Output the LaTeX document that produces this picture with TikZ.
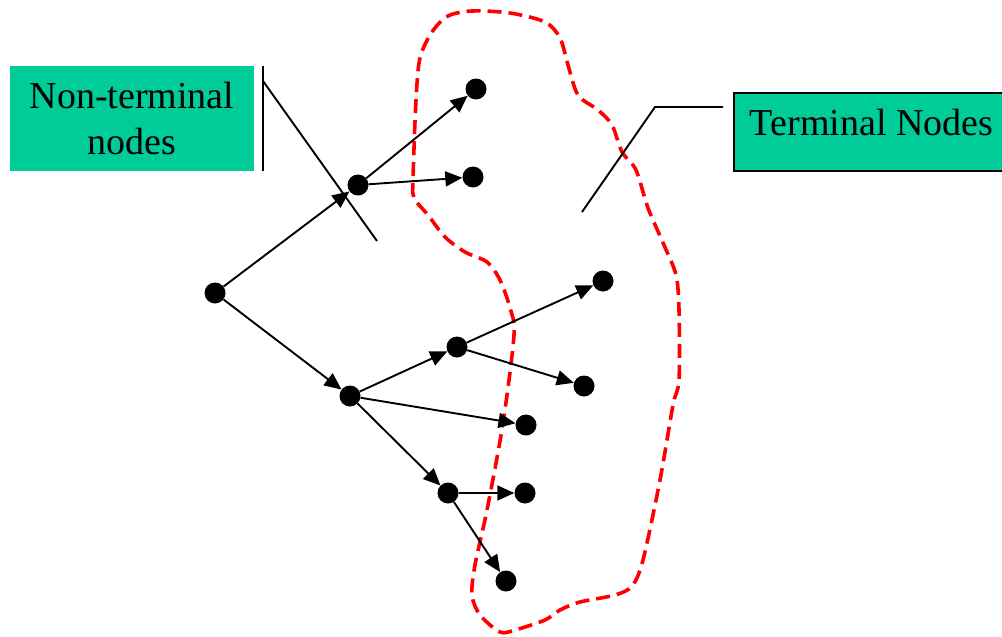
\documentclass[tikz,border=0pt]{standalone}
\usepackage{fontspec}
\setmainfont{Liberation Serif}
\usetikzlibrary{arrows.meta}
\definecolor{boxgreen}{HTML}{00CC99}
\tikzset{
  dot/.style={circle, fill=black, inner sep=0pt, minimum size=21pt},
  edge/.style={line width=1.9pt, -{Triangle[length=17pt,width=15pt]}},
  lbl/.style={fill=boxgreen, font=\fontsize{38pt}{46pt}\selectfont},
  pointer/.style={line width=1.9pt},
  region/.style={red, line width=3.6pt, dash pattern=on 14pt off 7pt}
}
\begin{document}
\begin{tikzpicture}[x=1pt,y=-1pt]
\useasboundingbox (0,0) rectangle (1002,637);
% region
\draw[region] plot[smooth cycle, tension=0.5] coordinates {
(420,58) (432,32) (448,16) (472,11) (510,13) (545,22) (560,38) (568,65) (578,95) (598,110) (612,125) (622,152) (636,170) (648,208) (664,245) (676,275) (679,310) (679,380) (673,405) (660,480) (643,560) (632,586) (615,595) (580,602) (560,610) (545,620) (515,630) (500,632) (480,615) (472,595) (475,565) (487,510) (503,423) (514,335) (510,308) (500,280) (487,262) (465,252) (445,237) (428,215) (414,198) (413,180) (416,100)};
% nodes
\node[dot] (r) at (215,293) {};
\node[dot] (a) at (358,185) {};
\node[dot] (a1) at (476,89) {};
\node[dot] (a2) at (473,177) {};
\node[dot] (b) at (350,396) {};
\node[dot] (b1) at (457,347) {};
\node[dot] (b1a) at (603,281) {};
\node[dot] (b1b) at (584,386) {};
\node[dot] (b2) at (526,425) {};
\node[dot] (b3) at (448,493) {};
\node[dot] (b3a) at (525,493) {};
\node[dot] (b3b) at (506,581) {};
% edges
\draw[edge] (r) -- (a);
\draw[edge] (r) -- (b);
\draw[edge] (a) -- (a1);
\draw[edge] (a) -- (a2);
\draw[edge] (b) -- (b1);
\draw[edge] (b) -- (b2);
\draw[edge] (b) -- (b3);
\draw[edge] (b1) -- (b1a);
\draw[edge] (b1) -- (b1b);
\draw[edge] (b3) -- (b3a);
\draw[edge] (b3) -- (b3b);
% labels
\node[lbl, minimum width=244pt, minimum height=105pt, align=center, inner sep=0pt] (nt) at (132,118.5) {Non-terminal\\nodes};
\node[lbl, draw=black, line width=1.8pt, anchor=west, minimum height=78pt, inner xsep=16pt, text height=25pt, text depth=19pt] (tn) at (733,132) {Terminal Nodes};
% pointers
\coordinate (p1) at (263,66);
\coordinate (p2) at (263,171);
\coordinate (p3) at (263,81);
\coordinate (p4) at (377,241);
\draw[pointer] (p1) -- (p2);
\draw[pointer] (p3) -- (p4);
\coordinate (q1) at (582,212);
\coordinate (q2) at (655,107);
\coordinate (q3) at (723,107);
\draw[pointer] (q1) -- (q2) -- (q3);
\end{tikzpicture}
\end{document}
